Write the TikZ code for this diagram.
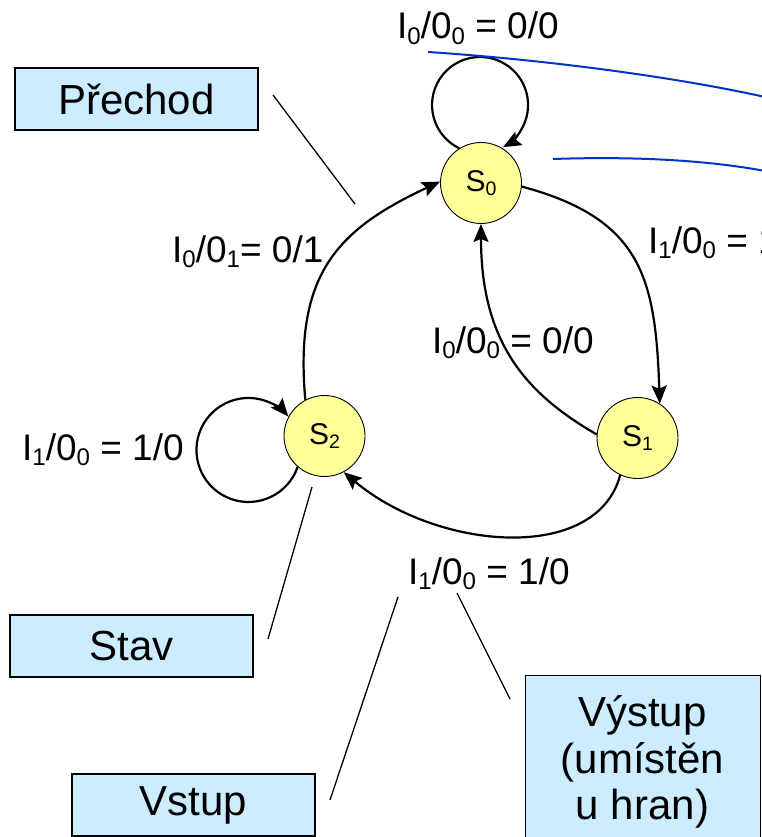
\documentclass[tikz,border=0pt]{standalone}
\usepackage{fontspec}
\usepackage{graphicx}
\setmainfont{Liberation Sans}
\usetikzlibrary{arrows.meta}

\definecolor{statefill}{HTML}{FFFF99}
\definecolor{boxfill}{HTML}{CCECFF}
\definecolor{penblue}{HTML}{0033CC}

% small lowered index digit
\newcommand{\sbs}[1]{\raisebox{-0.15em}{\scalebox{0.65}{#1}}}

\tikzset{
  state/.style={circle, draw, line width=0.9pt, fill=statefill, minimum size=81pt,
                inner sep=0pt, font=\fontsize{30}{34}\selectfont},
  edge/.style={line width=2.2pt, -{Stealth[length=18pt, width=15pt, inset=3pt]}},
  lbl/.style={anchor=base west, inner sep=0pt, font=\fontsize{37}{41}\selectfont},
  tag/.style={rectangle, draw, line width=1.4pt, fill=boxfill, minimum width=243pt,
              minimum height=62pt, inner sep=0pt, font=\fontsize{42}{46}\selectfont},
  tagline/.style={anchor=base, inner sep=0pt, font=\fontsize{42}{46}\selectfont},
  callout/.style={line width=1.3pt},
  pen/.style={line width=2pt, penblue}
}

\begin{document}
\begin{tikzpicture}[x=1pt, y=1pt]
\useasboundingbox (0,0) rectangle (762,-837);
\clip (0,0) rectangle (762,-837);

% states
\node[state] (S0) at (481,-183) {S\sbs{0}};
\node[state] (S1) at (637.5,-438) {S\sbs{1}};
\node[state] (S2) at (324.5,-436) {S\sbs{2}};

% transitions
\draw[edge] (S0.122) arc[start angle=244.4, end angle=-61.4, radius=48];
\draw[edge] (S0.-5) .. controls +(-15:125) and +(92:125) .. (S1.57);
\draw[edge] (S1.175) .. controls +(150:80) and +(-90:120) .. (S0.-90);
\draw[edge] (S1.-115) .. controls +(-105:92) and +(-40:122) .. (S2.-62);
\draw[edge] (S2.118) .. controls +(95:125) and +(205:115) .. (S0.178);
\draw[edge] (S2.229) arc[start angle=-19, end angle=-320, radius=52];

% transition labels
\node[lbl] (l00top) at (397,-39) {I\sbs{0}/0\sbs{0} = 0/0};
\node[lbl] (l01) at (172,-262) {I\sbs{0}/0\sbs{1}= 0/1};
\node[lbl] (l10right) at (648,-253) {I\sbs{1}/0\sbs{0} = 1/0};
\node[lbl] (l00mid) at (432,-353) {I\sbs{0}/0\sbs{0} = 0/0};
\node[lbl] (l10loop) at (22,-460) {I\sbs{1}/0\sbs{0} = 1/0};
\node[lbl] (l10bot) at (408,-584) {I\sbs{1}/0\sbs{0} = 1/0};

% explanation boxes
\node[tag] (prechod) at (136.5,-99) {Přechod};
\node[tag] (stav) at (131.5,-646) {Stav};
\node[tag] (vstup) at (193.5,-805) {Vstup};
\node[tag, anchor=north west, minimum width=235pt, minimum height=200pt] (vystup) at (525,-675) {};
\node[tagline] (vy1) at (642.5,-726) {Výstup};
\node[tagline] (vy2) at (642.5,-773) {(umístěn};
\node[tagline] (vy3) at (642.5,-819) {u hran)};

% pointer lines
\coordinate (cpA) at (273,-95);
\coordinate (cpB) at (355,-204);
\coordinate (csA) at (268,-639);
\coordinate (csB) at (312,-487);
\coordinate (cvA) at (330,-800);
\coordinate (cvB) at (398,-597);
\coordinate (cyA) at (510,-699);
\coordinate (cyB) at (457,-593);
\draw[callout] (cpA) -- (cpB);
\draw[callout] (csA) -- (csB);
\draw[callout] (cvA) -- (cvB);
\draw[callout] (cyA) -- (cyB);

% hand-drawn blue strokes
\coordinate (bu1) at (428,-52);
\coordinate (bu2) at (765,-97);
\coordinate (bl1) at (553,-159);
\coordinate (bl2) at (765,-171);
\draw[pen] (bu1) .. controls (550,-60) and (680,-78) .. (bu2);
\draw[pen] (bl1) .. controls (640,-156) and (712,-161) .. (bl2);
\end{tikzpicture}
\end{document}
